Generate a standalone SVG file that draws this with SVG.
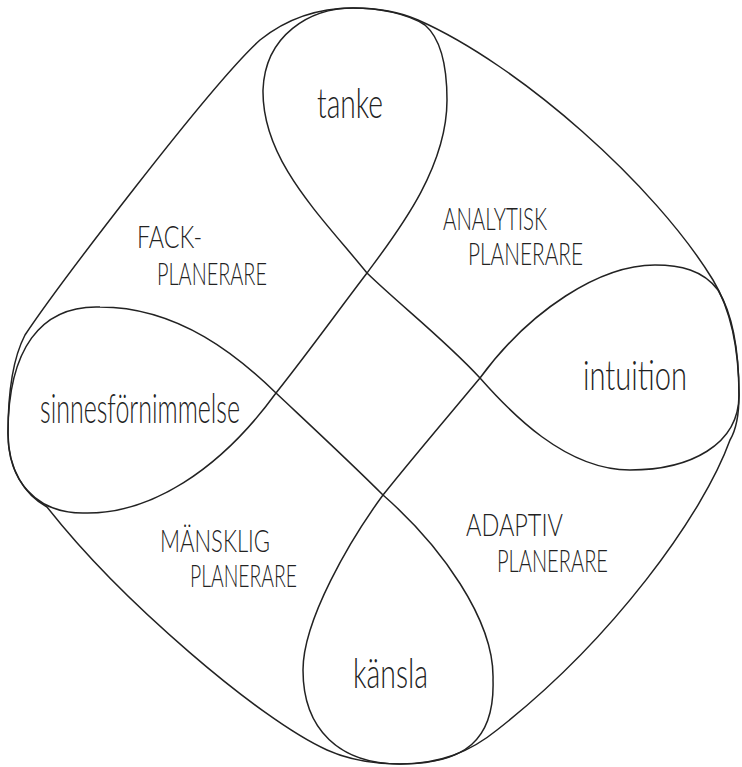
<svg xmlns="http://www.w3.org/2000/svg" width="742" height="767" viewBox="0 0 742 767">
<style>
.ln{fill:none;stroke:#222;stroke-width:1.5;stroke-linejoin:round;stroke-linecap:round}
.lb{font-family:Lato,"Liberation Sans",sans-serif;font-weight:300;fill:#222}
.lc{font-size:41px}
.uc{font-size:32px}
</style>
<rect width="742" height="767" fill="#ffffff"/>
<g id="connectors">
<path id="outer" class="ln" d="M353,8 C380,8 400,12 418,20 C520,65 655,185 713,280 C728,305 739,340 739,395 C739,415 736,430 730,440 C703,515 612,640 497,730 C470,752 440,764 400,764 C370,764 345,758 327,750 C260,720 120,600 47,507 C25,495 8,470 8,433 C8,390 13,358 25,335 C55,290 210,85 260,40 C285,20 315,8 353,8 Z"/>
<path id="loop" class="ln" d="M367,273 C400,305 445,340 480,378 C510,412 565,470 630,470 C690,470 739,445 739,395 C739,350 733,315 718,290 C703,270 680,265 655,265 C600,265 530,310 480,378 C445,420 415,455 383,495 C350,540 303,620 303,670 C303,730 340,764 400,764 C465,764 495,740 493,680 C495,620 440,545 383,495 C350,462 310,425 276,393 C240,358 180,307 100,307 C40,305 8,350 8,433 C8,480 35,513 83,513 C150,515 220,470 276,393 C310,350 335,315 367,273 C395,235 447,170 447,100 C447,65 440,38 425,25 C408,14 380,8 353,8 C310,8 265,35 263,90 C262,160 320,215 367,273 Z"/>
</g>
<g id="tanke"><text class="lb lc" x="317" y="118" textLength="66" lengthAdjust="spacingAndGlyphs">tanke</text></g>
<g id="intuition"><text class="lb lc" x="583" y="390" textLength="104" lengthAdjust="spacingAndGlyphs">intuition</text></g>
<g id="sinnesfornimmelse"><text class="lb lc" x="40" y="423" textLength="200" lengthAdjust="spacingAndGlyphs">sinnesförnimmelse</text></g>
<g id="kansla"><text class="lb lc" x="353" y="688" textLength="75" lengthAdjust="spacingAndGlyphs">känsla</text></g>
<g id="fackplanerare">
<text class="lb uc" x="137" y="248" textLength="65" lengthAdjust="spacingAndGlyphs">FACK-</text>
<text class="lb uc" x="157" y="285" textLength="110" lengthAdjust="spacingAndGlyphs">PLANERARE</text>
</g>
<g id="analytisk">
<text class="lb uc" x="443" y="230" textLength="104" lengthAdjust="spacingAndGlyphs">ANALYTISK</text>
<text class="lb uc" x="468" y="265" textLength="115" lengthAdjust="spacingAndGlyphs">PLANERARE</text>
</g>
<g id="mansklig">
<text class="lb uc" x="160" y="552" textLength="110" lengthAdjust="spacingAndGlyphs">MÄNSKLIG</text>
<text class="lb uc" x="190" y="587" textLength="107" lengthAdjust="spacingAndGlyphs">PLANERARE</text>
</g>
<g id="adaptiv">
<text class="lb uc" x="466" y="536" textLength="97" lengthAdjust="spacingAndGlyphs">ADAPTIV</text>
<text class="lb uc" x="497" y="572" textLength="111" lengthAdjust="spacingAndGlyphs">PLANERARE</text>
</g>
</svg>
